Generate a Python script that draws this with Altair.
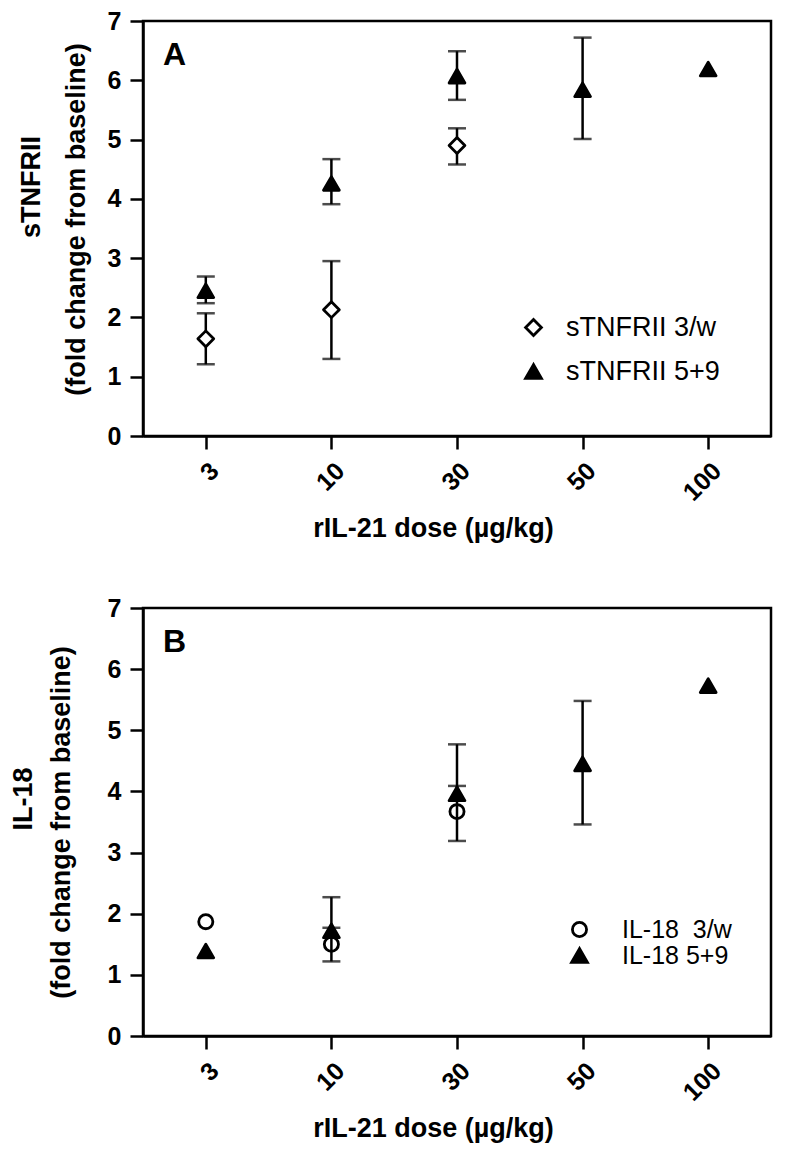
import altair as alt
import pandas as pd

DOSES = ["3", "10", "30", "50", "100"]

# Panel A: sTNFRII
A_3W_DOSE = ["3", "10", "30"]
A_3W_MEAN = [1.64, 2.13, 4.90]
A_3W_LO = [1.21, 1.30, 4.58]
A_3W_HI = [2.07, 2.95, 5.19]
A_59_DOSE = ["3", "10", "30", "50", "100"]
A_59_MEAN = [2.45, 4.26, 6.07, 5.84, 6.19]
A_59_LO = [2.24, 3.91, 5.67, 5.01, None]
A_59_HI = [2.69, 4.67, 6.49, 6.72, None]

# Panel B: IL-18
B_3W_DOSE = ["3", "10", "30"]
B_3W_MEAN = [1.87, 1.50, 3.67]
B_3W_LO = [None, 1.22, 3.19]
B_3W_HI = [None, 1.77, 4.09]
B_59_DOSE = ["3", "10", "30", "50", "100"]
B_59_MEAN = [1.39, 1.72, 3.96, 4.45, 5.73]
B_59_LO = [None, None, None, 3.46, None]
B_59_HI = [None, 2.27, 4.77, 5.48, None]

A_SERIES = ["sTNFRII 3/w", "sTNFRII 5+9"]
B_SERIES = ["IL-18\u00a0 3/w", "IL-18 5+9"]

X_TITLE = "rIL-21 dose (µg/kg)"
Y_SUB = "(fold change from baseline)"

FONT = "Liberation Sans"


def build_frames(series, groups):
    pts, rules, caps = [], [], []
    for name, (doses, mean, lo, hi) in zip(series, groups):
        for d, m, l, h in zip(doses, mean, lo, hi):
            pts.append({"dose": d, "value": m, "series": name})
            if l is None and h is None:
                continue
            rules.append({"dose": d, "lo": m if l is None else l,
                          "hi": m if h is None else h, "series": name})
            for c in (l, h):
                if c is not None:
                    caps.append({"dose": d, "value": c, "series": name})
    return pd.DataFrame(pts), pd.DataFrame(rules), pd.DataFrame(caps)


def panel(series, groups, ytitle, letter, shapes, fills, sizes, height,
          leg_x, leg_y, leg_font, leg_offset, leg_rowpad,
          t1_pos, t2_pos):
    pts, rules, caps = build_frames(series, groups)
    xenc = alt.X("dose:O", sort=DOSES,
                 scale=alt.Scale(type="point", domain=DOSES, padding=0.5),
                 axis=alt.Axis(title=X_TITLE, labelAngle=-45,
                               titleX=290, titleY=92, titleBaseline="middle",
                               titleAlign="center"))
    yaxis = alt.Axis(title=Y_SUB, values=list(range(0, 8)), grid=False,
                     titleAngle=270, titleAlign="center",
                     titleBaseline="middle",
                     titleX=t2_pos[0], titleY=t2_pos[1])
    yscale = alt.Scale(domain=[0, 7], nice=False, zero=True)

    rule = alt.Chart(rules).mark_rule(color="black", strokeWidth=2.5).encode(
        x=xenc,
        y=alt.Y("lo:Q", scale=yscale, axis=yaxis),
        y2="hi:Q",
    )
    cap = alt.Chart(caps).mark_tick(color="black", thickness=2.5, size=18,
                                    orient="horizontal").encode(
        x=xenc,
        y=alt.Y("value:Q", scale=yscale, axis=yaxis),
    )
    point = alt.Chart(pts).mark_point(stroke="black", strokeWidth=2.8,
                                      strokeJoin="round", opacity=1).encode(
        x=xenc,
        y=alt.Y("value:Q", scale=yscale, axis=yaxis),
        shape=alt.Shape("series:N", scale=alt.Scale(domain=series, range=shapes),
                        legend=alt.Legend(title=None, orient="none",
                                          legendX=leg_x, legendY=leg_y,
                                          labelFontSize=leg_font,
                                          labelFont=FONT,
                                          labelColor="black",
                                          labelOffset=leg_offset,
                                          rowPadding=leg_rowpad,
                                          padding=0,
                                          symbolStrokeColor="black",
                                          symbolStrokeWidth=2.8)),
        fill=alt.Fill("series:N", scale=alt.Scale(domain=series, range=fills)),
        size=alt.Size("series:N", scale=alt.Scale(domain=series, range=sizes)),
    )
    label = alt.Chart(pd.DataFrame({"t": [letter]})).mark_text(
        font=FONT, fontWeight="bold", fontSize=32, align="left",
        baseline="alphabetic", color="black"
    ).encode(text="t:N", x=alt.value(20), y=alt.value(44))
    ylab = alt.Chart(pd.DataFrame({"t": [ytitle]})).mark_text(
        font=FONT, fontWeight="bold", fontSize=27, align="center",
        baseline="middle", angle=270, color="black"
    ).encode(text="t:N", x=alt.value(t1_pos[0]), y=alt.value(t1_pos[1]))

    return alt.layer(rule, cap, point, label, ylab).properties(
        width=628, height=height)


chart_a = panel(
    A_SERIES,
    [(A_3W_DOSE, A_3W_MEAN, A_3W_LO, A_3W_HI),
     (A_59_DOSE, A_59_MEAN, A_59_LO, A_59_HI)],
    "sTNFRII", "A",
    ["diamond", "triangle-up"], ["white", "black"], [250, 250], 415,
    leg_x=377, leg_y=293, leg_font=27, leg_offset=19, leg_rowpad=15,
    t1_pos=(-111, 166), t2_pos=(-67, 198),
)
chart_b = panel(
    B_SERIES,
    [(B_3W_DOSE, B_3W_MEAN, B_3W_LO, B_3W_HI),
     (B_59_DOSE, B_59_MEAN, B_59_LO, B_59_HI)],
    "IL-18", "B",
    ["circle", "triangle-up"], ["transparent", "black"], [200, 250], 428,
    leg_x=424, leg_y=309, leg_font=25, leg_offset=30, leg_rowpad=0,
    t1_pos=(-119, 191), t2_pos=(-82, 214),
)

chart = alt.vconcat(chart_a, chart_b, spacing=172, bounds="flush").resolve_scale(
    shape="independent", fill="independent", size="independent"
).properties(
    padding={"left": 0, "top": -1, "right": 5, "bottom": 5}
).configure_view(
    stroke="black", strokeWidth=2.5
).configure_axis(
    domainColor="black", domainWidth=2.5, tickColor="black", tickWidth=2.5,
    tickSize=13, labelFont=FONT, labelFontWeight="bold", labelFontSize=25,
    labelColor="black", labelPadding=9, titleFont=FONT, titleFontWeight="bold",
    titleFontSize=27, titleColor="black", grid=False,
)

chart.save("out.html", embed_options={"renderer": "svg", "actions": False})
